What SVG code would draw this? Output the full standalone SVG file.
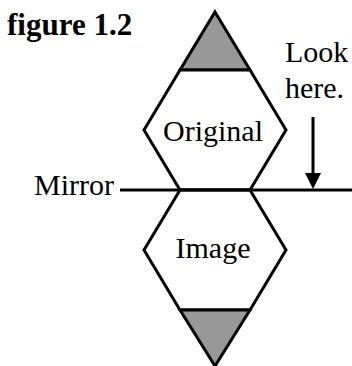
<svg xmlns="http://www.w3.org/2000/svg" width="352" height="366" viewBox="0 0 352 366">
<style>
.txt{font-family:"Liberation Serif","Times New Roman",serif;font-size:30px;fill:#000}
.bold{font-weight:bold;font-size:31px}
.shape{fill:#fff;stroke:#000;stroke-width:3;stroke-linejoin:miter}
.tri{fill:#999;stroke:#000;stroke-width:3;stroke-linejoin:miter}
.line{stroke:#000;stroke-width:3;fill:none}
</style>
<rect width="352" height="366" fill="#fff"/>
<text class="txt bold" x="7" y="35">figure 1.2</text>
<g id="top-triangle">
<path class="tri" d="M215,12 L250,70 L180,70 z"/>
</g>
<g id="original">
<path class="shape" d="M180,70 L250,70 L286,130 L250,190 L180,190 L144,130 z"/>
<text class="txt" x="213" y="141" text-anchor="middle">Original</text>
</g>
<g id="image">
<path class="shape" d="M180,190 L250,190 L286,250 L250,310 L180,310 L144,250 z"/>
<text class="txt" x="213" y="258" text-anchor="middle">Image</text>
</g>
<g id="bottom-triangle">
<path class="tri" d="M180,310 L250,310 L215,366 z"/>
</g>
<g id="connectors">
<line class="line" x1="120" y1="190" x2="352" y2="190"/>
<line class="line" x1="313" y1="117" x2="313" y2="175"/>
<path d="M305,173 L321,173 L313,189 z" fill="#000"/>
</g>
<g id="mirror-label">
<text class="txt" x="34" y="195">Mirror</text>
</g>
<g id="look-label">
<text class="txt" x="285" y="62">Look</text>
<text class="txt" x="285" y="98">here.</text>
</g>
</svg>
